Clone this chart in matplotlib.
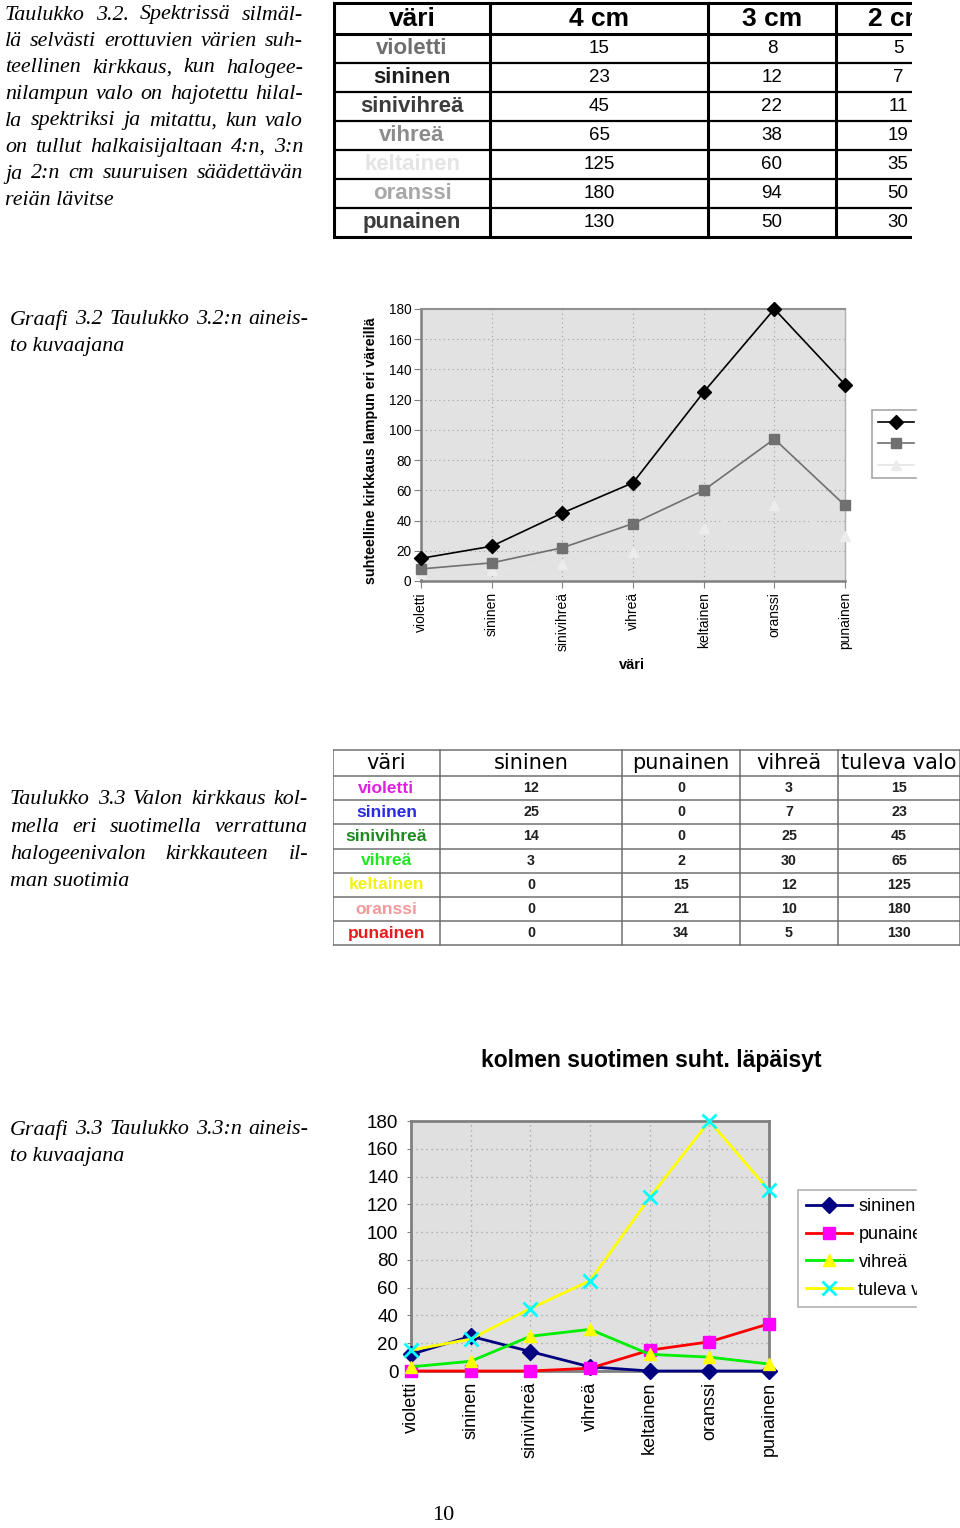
"""
Sivu 10: taulukot 3.2 ja 3.3 seka niiden kuvaajat (spektrin kirkkaudet).
"""
import matplotlib
matplotlib.use("Agg")
import matplotlib.pyplot as plt
from matplotlib import font_manager
from matplotlib.patches import Rectangle

W, H = 960, 1528

# ---- data ------------------------------------------------------------
colors = ['violetti', 'sininen', 'sinivihreä', 'vihreä', 'keltainen', 'oranssi', 'punainen']

# taulukko 3.2: reian halkaisija
hole_labels = ['4 cm', '3 cm', '2 cm']
hole_4cm = [15, 23, 45, 65, 125, 180, 130]
hole_3cm = [8, 12, 22, 38, 60, 94, 50]
hole_2cm = [5, 7, 11, 19, 35, 50, 30]

# taulukko 3.3: suotimet
filter_labels = ['sininen', 'punainen', 'vihreä', 'tuleva valo']
filt_blue = [12, 25, 14, 3, 0, 0, 0]
filt_red = [0, 0, 0, 2, 15, 21, 34]
filt_green = [3, 7, 25, 30, 12, 10, 5]
filt_none = [15, 23, 45, 65, 125, 180, 130]

y_ticks = list(range(0, 181, 20))

caption_32 = ["Taulukko 3.2. Spektrissä silmäl-",
              "lä selvästi erottuvien värien suh-",
              "teellinen kirkkaus,  kun halogee-",
              "nilampun valo on hajotettu hilal-",
              "la spektriksi ja mitattu, kun valo",
              "on tullut halkaisijaltaan 4:n, 3:n",
              "ja 2:n cm  suuruisen säädettävän",
              "reiän lävitse"]
caption_g32 = ["Graafi 3.2 Taulukko 3.2:n aineis-", "to kuvaajana"]
caption_33 = ["Taulukko 3.3 Valon kirkkaus kol-",
              "mella eri suotimella verrattuna",
              "halogeenivalon kirkkauteen il-",
              "man suotimia"]
caption_g33 = ["Graafi 3.3 Taulukko 3.3:n aineis-", "to kuvaajana"]


def has_font(name):
    try:
        font_manager.findfont(name, fallback_to_default=False)
        return True
    except ValueError:
        return False


NARROW = has_font('Liberation Sans Narrow')
SANS = 'Liberation Sans'
NARROW_FAM = 'Liberation Sans Narrow' if NARROW else SANS

plt.rcParams['font.family'] = [SANS, 'DejaVu Sans']

fig = plt.figure(figsize=(W / 100, H / 100), dpi=100)
fig.patch.set_facecolor('white')
renderer = fig.canvas.get_renderer()


def fy(y):
    return 1 - y / H


def px_axes(x0, y0, x1, y1):
    return fig.add_axes([x0 / W, 1 - y1 / H, (x1 - x0) / W, (y1 - y0) / H])


def caption(lines, x0, x1, y0, step, size=15.8):
    kw = dict(family='Liberation Serif', style='italic', size=size, va='center')
    for i, line in enumerate(lines):
        y = fy(y0 + i * step)
        words = line.split()
        if i == len(lines) - 1 or len(words) == 1:
            fig.text(x0 / W, y, line, **kw)
            continue
        arts = [fig.text(0, y, w, **kw) for w in words]
        widths = [a.get_window_extent(renderer).width for a in arts]
        gap = max((x1 - x0 - sum(widths)) / (len(words) - 1), 3)
        x = x0
        for a, wd in zip(arts, widths):
            a.set_x(x / W)
            x += wd + gap


caption(caption_32, 5, 303, 15, 26.5)
caption(caption_g32, 10, 308, 320, 27)
caption(caption_33, 10, 308, 800, 27)
caption(caption_g33, 10, 308, 1130, 27)
fig.text(443 / W, fy(1516), '10', family='Liberation Serif', size=16,
         ha='center', va='center')

# ---- taulukko 3.2 ----------------------------------------------------
ax = px_axes(333, 0, 912, 240)
ax.set_xlim(333, 912)
ax.set_ylim(240, 0)
ax.axis('off')
col_edges = [334, 490, 708, 836, 960]
row_top, head_h, row_h = 3, 31, 29
row_edges = [row_top, row_top + head_h] + [row_top + head_h + row_h * (i + 1) for i in range(len(colors))]
for x in col_edges[:-1]:
    ax.plot([x, x], [row_edges[0], row_edges[-1]], color='black', lw=2.2, solid_capstyle='butt')
for i, y in enumerate(row_edges):
    lw = 2.2 if i in (0, 1, len(row_edges) - 1) else 1.6
    ax.plot([col_edges[0], col_edges[-1]], [y, y], color='black', lw=lw)
centers = [(a + b) / 2 for a, b in zip(col_edges[:-1], col_edges[1:])]
head_y = (row_edges[0] + row_edges[1]) / 2
for cx, txt in zip(centers, ['väri'] + hole_labels):
    ax.text(cx, head_y, txt, ha='center', va='center', size=19, weight='bold', clip_on=True)
label_grays = ['#6e6e6e', '#1e1e1e', '#3c3c3c', '#8c8c8c', '#e4e4e4', '#a8a8a8', '#3c3c3c']
for i, name in enumerate(colors):
    cy = (row_edges[i + 1] + row_edges[i + 2]) / 2
    ax.text(centers[0], cy, name, ha='center', va='center', size=16, weight='bold',
            color=label_grays[i])
    for cx, series in zip(centers[1:], [hole_4cm, hole_3cm, hole_2cm]):
        ax.text(cx, cy, str(series[i]), ha='center', va='center',
                size=16 if NARROW else 13.5, family=NARROW_FAM, clip_on=True)

# ---- graafi 3.2 ------------------------------------------------------
ax = px_axes(421, 309, 845, 581)
ax.set_facecolor('#e2e2e2')
xs = range(len(colors))
ax.plot(xs, hole_4cm, color='black', lw=1.2, marker='D', ms=7, label=hole_labels[0], clip_on=False, zorder=5)
ax.plot(xs, hole_3cm, color='#707070', lw=1.2, marker='s', ms=7.5, label=hole_labels[1], clip_on=False, zorder=4)
ax.plot(xs, hole_2cm, color='#e4e4e4', lw=1.2, marker='^', ms=7, mfc='#ececec', mec='#ececec',
        label=hole_labels[2], clip_on=False, zorder=3)
ax.set_xlim(0, len(colors) - 1)
ax.set_ylim(0, 180)
ax.set_yticks(y_ticks)
ax.set_xticks(list(xs))
ax.set_xticklabels(colors, rotation=90, size=10)
ax.tick_params(axis='y', labelsize=9.8, length=5, pad=2, color='#808080')
ax.tick_params(axis='x', length=5, pad=3, color='#808080')
ax.grid(True, color='#a0a0a0', lw=0.8, linestyle=(0, (1, 3)))
ax.set_axisbelow(True)
for side, col, lw in [('left', '#808080', 1.8), ('bottom', '#808080', 1.8),
                      ('top', '#909090', 1.5), ('right', '#b0b0b0', 1.0)]:
    ax.spines[side].set_color(col)
    ax.spines[side].set_linewidth(lw)
fig.text(371 / W, fy(451), 'suhteelline kirkkaus lampun eri väreillä', rotation=90,
         ha='center', va='center', size=10.3, weight='bold')
fig.text(632 / W, fy(665), 'väri', ha='center', va='center', size=10.5, weight='bold')
leg = ax.legend(loc='upper left', bbox_to_anchor=(872 / W, fy(410)),
                bbox_transform=fig.transFigure, fontsize=10, frameon=True, fancybox=False,
                edgecolor='#909090', handlelength=2.6, labelspacing=0.55,
                borderpad=0.4, handletextpad=0.5, borderaxespad=0)
leg.get_frame().set_linewidth(1.2)
fig.add_artist(Rectangle((917 / W, fy(495)), (W - 917) / W, 100 / H,
                         transform=fig.transFigure, color='white', zorder=10))

# ---- taulukko 3.3 ----------------------------------------------------
ax = px_axes(333, 745, 960, 950)
ax.set_xlim(333, 960)
ax.set_ylim(950, 745)
ax.axis('off')
col_edges = [333, 440, 622, 740, 838, 960]
row_top, head_h, row_h = 750, 26, 24.2
row_edges = [row_top, row_top + head_h] + [row_top + head_h + row_h * (i + 1) for i in range(len(colors))]
for x in col_edges:
    ax.plot([x, x], [row_edges[0], row_edges[-1]], color='#707070', lw=1.1)
for y in row_edges:
    ax.plot([col_edges[0], col_edges[-1]], [y, y], color='#707070', lw=1.1)
centers = [(a + b) / 2 for a, b in zip(col_edges[:-1], col_edges[1:])]
head_y = (row_edges[0] + row_edges[1]) / 2
for cx, txt in zip(centers, ['väri'] + filter_labels):
    ax.text(cx, head_y, txt, ha='center', va='center', size=15, family='DejaVu Sans')
label_cols = ['#e020e0', '#2a2ae6', '#208a20', '#22e622', '#f2f21a', '#f29a9a', '#e61c1c']
for i, name in enumerate(colors):
    cy = (row_edges[i + 1] + row_edges[i + 2]) / 2
    ax.text(centers[0], cy, name, ha='center', va='center', weight='bold',
            size=15 if NARROW else 12.5, family=NARROW_FAM, color=label_cols[i])
    for cx, series in zip(centers[1:], [filt_blue, filt_red, filt_green, filt_none]):
        ax.text(cx, cy, str(series[i]), ha='center', va='center', weight='bold',
                size=11.5 if NARROW else 10.3, family=NARROW_FAM, color='#202020')

# ---- graafi 3.3 ------------------------------------------------------
fig.text(651 / W, fy(1060), 'kolmen suotimen suht. läpäisyt', ha='center', va='center',
         size=16.5, weight='bold')
ax = px_axes(411, 1121, 769, 1371)
ax.set_facecolor('#e0e0e0')
ax.plot(xs, filt_blue, color='#000080', lw=2, marker='D', ms=8, mfc='#000080',
        mec='#000080', label=filter_labels[0], clip_on=False, zorder=3)
ax.plot(xs, filt_red, color='#ff0000', lw=2, marker='s', ms=9, mfc='#ff00ff',
        mec='#ff00ff', label=filter_labels[1], clip_on=False, zorder=4)
ax.plot(xs, filt_green, color='#00ee00', lw=2, marker='^', ms=9, mfc='#ffff00',
        mec='#ffff00', label=filter_labels[2], clip_on=False, zorder=5)
ax.plot(xs, filt_none, color='#ffff00', lw=2, marker='x', ms=10, mec='#00ffff',
        mew=2, label=filter_labels[3], clip_on=False, zorder=6)
ax.set_xlim(0, len(colors) - 1)
ax.set_ylim(0, 180)
ax.set_yticks(y_ticks)
ax.set_xticks(list(xs))
ax.set_xticklabels(colors, rotation=90, size=13)
ax.tick_params(axis='y', labelsize=13.5, length=3, pad=6, color='#808080')
ax.tick_params(axis='x', length=3, pad=5, color='#808080')
ax.grid(True, color='#a0a0a0', lw=0.9, linestyle=(0, (1, 3)))
ax.set_axisbelow(True)
for side in ['left', 'bottom', 'top', 'right']:
    ax.spines[side].set_color('#808080')
    ax.spines[side].set_linewidth(2)
leg = ax.legend(loc='upper left', bbox_to_anchor=(798 / W, fy(1190)),
                bbox_transform=fig.transFigure, fontsize=13, frameon=True, fancybox=False,
                edgecolor='#a0a0a0', handlelength=2.55, labelspacing=0.6,
                borderpad=0.45, handletextpad=0.35, borderaxespad=0)
leg.get_frame().set_linewidth(1.2)
fig.add_artist(Rectangle((917 / W, fy(1315)), (W - 917) / W, 135 / H,
                         transform=fig.transFigure, color='white', zorder=10))

fig.savefig('out.png', dpi=100, facecolor='white')
